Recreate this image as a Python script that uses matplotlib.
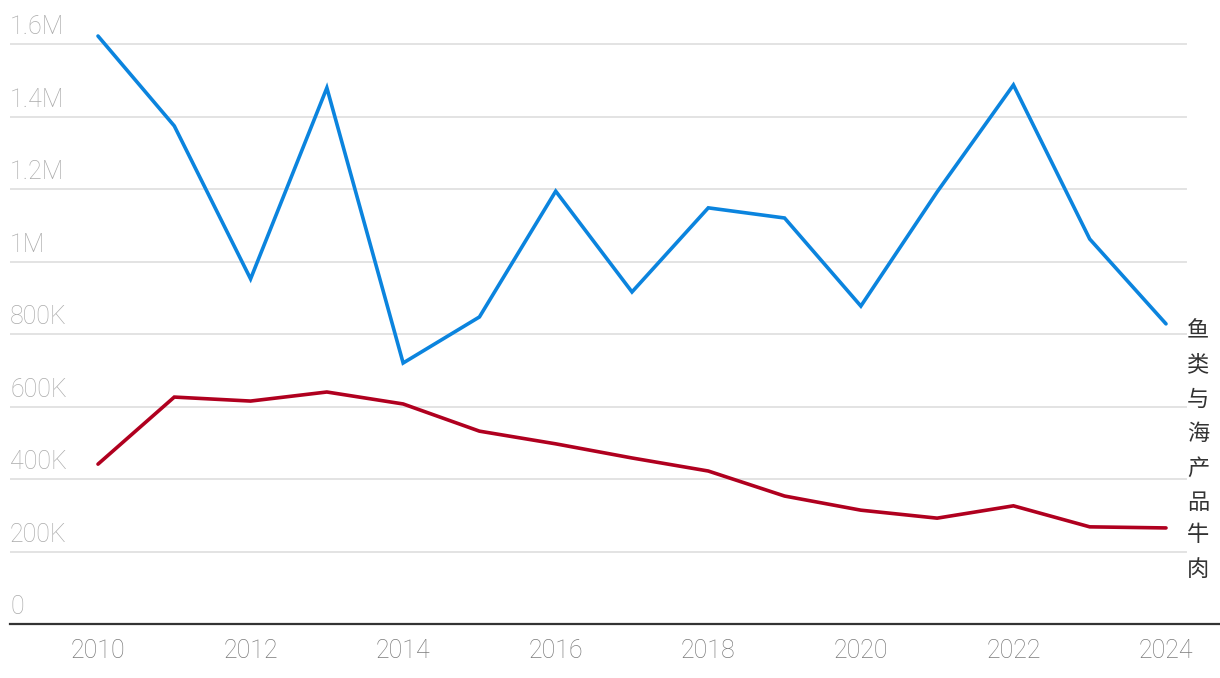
import matplotlib
matplotlib.use("Agg")
import matplotlib.pyplot as plt
import matplotlib.transforms as mtransforms

plt.rcParams['font.family'] = ['Noto Sans CJK SC', 'DejaVu Sans']
NUMFONT = ['Roboto', 'DejaVu Sans']

years = list(range(2010, 2025))
fish = [1622, 1374, 952, 1479, 720, 847, 1194, 916, 1148, 1120, 877, 1192, 1487, 1062, 828]
beef = [441, 626, 615, 640, 607, 532, 497, 458, 422, 353, 314, 292, 326, 268, 265]
fish = [v * 1000 for v in fish]
beef = [v * 1000 for v in beef]
fish_label = "鱼类与海产品"
beef_label = "牛肉"
yticks = [0, 200000, 400000, 600000, 800000, 1000000, 1200000, 1400000, 1600000]
ytick_labels = ["0", "200K", "400K", "600K", "800K", "1M", "1.2M", "1.4M", "1.6M"]
xticks = [2010, 2012, 2014, 2016, 2018, 2020, 2022, 2024]

W, H = 1220, 678
fig = plt.figure(figsize=(W / 100, H / 100), dpi=100)
ax = fig.add_axes([10 / W, (H - 624) / H, 1210 / W, 614 / H])
px_per_year = (1166 - 98) / 14
xmin = 2010 - 88 / px_per_year
xmax = 2024 + 54 / px_per_year
ax.set_xlim(xmin, xmax)
ax.set_ylim(0, 614 / 72.5 * 200000)

grid_end = (2024 + 20 / px_per_year - xmin) / (xmax - xmin)
for v in yticks[1:]:
    ax.axhline(v, xmin=0, xmax=grid_end, color='#e3e3e3', lw=1.4, zorder=1)

for s in ['top', 'right', 'left']:
    ax.spines[s].set_visible(False)
ax.spines['bottom'].set_color('#333333')
ax.spines['bottom'].set_linewidth(1.6)

ax.set_yticks([])
ax.set_xticks(xticks)
ax.set_xticklabels([str(x) for x in xticks], fontsize=18, color='#7a7a7a',
                   fontweight='light', family=NUMFONT)
ax.tick_params(axis='x', length=0, pad=11)

trans = mtransforms.blended_transform_factory(ax.transAxes, ax.transData)
for v, lab in zip(yticks, ytick_labels):
    ax.annotate(lab, xy=(0, v), xycoords=trans, xytext=(0, 3.3), textcoords='offset points',
                ha='left', va='bottom', fontsize=18, color='#ababab',
                fontweight='light', family=NUMFONT)

ax.plot(years, fish, color='#0b84de', lw=2.6, solid_capstyle='round', solid_joinstyle='miter', zorder=3)
ax.plot(years, beef, color='#b0001f', lw=2.6, solid_capstyle='round', solid_joinstyle='miter', zorder=3)

def vlabel(x, y, text):
    for i, ch in enumerate(text):
        ax.annotate(ch, xy=(x, y), xycoords='data',
                    xytext=(32 * 0.72, (-7 - i * 34.3) * 0.72), textcoords='offset points',
                    ha='center', va='center', fontsize=16, color='#333333')

vlabel(years[-1], fish[-1], fish_label)
vlabel(years[-1], beef[-1], beef_label)

fig.savefig('out.png', dpi=100)
